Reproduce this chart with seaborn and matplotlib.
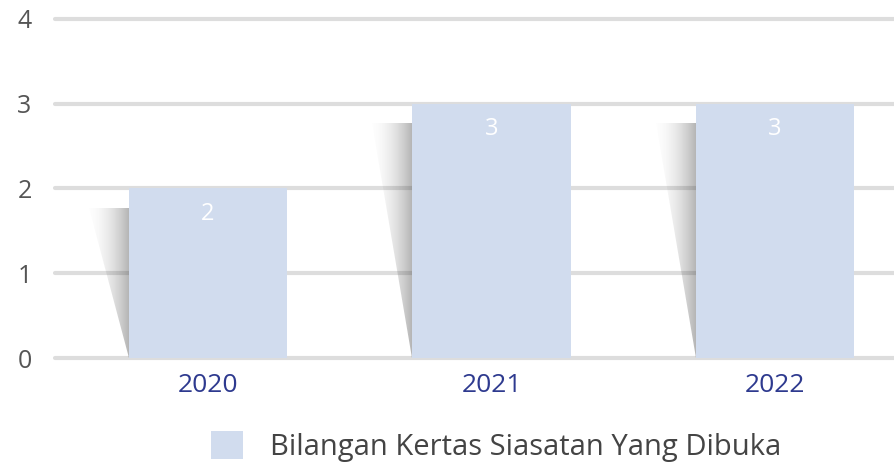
import numpy as np
import pandas as pd
import matplotlib
matplotlib.use("Agg")
import matplotlib.pyplot as plt
import seaborn as sns
from matplotlib.patches import Polygon, Patch

years = ["2020", "2021", "2022"]
values = [2, 3, 3]
yticks = [0, 1, 2, 3, 4]
series_name = "Bilangan Kertas Siasatan Yang Dibuka"

bar_color = "#d1dcee"
grid_color = "#dddddd"
xlab_color = "#2e3a8f"
ylab_color = "#555555"
font = ["Open Sans", "DejaVu Sans"]

sns.set_theme(style="white")
plt.rcParams["font.family"] = font

W, H = 894, 465
fig = plt.figure(figsize=(W / 100, H / 100), dpi=100)
ax = fig.add_axes([55 / W, 107 / H, (W - 55) / W, (358 - 19) / H])

df = pd.DataFrame({"year": years, "value": values})
bw = 0.56
sns.barplot(data=df, x="year", y="value", color=bar_color, width=bw,
            saturation=1, ax=ax, zorder=3, linewidth=0, edgecolor="none")

# gridlines
for t in yticks:
    ax.axhline(t, color=grid_color, lw=3, zorder=0, clip_on=False)

# shadows
sw = 0.141
grad = np.zeros((2, 256, 4))
xs = np.linspace(0, 1, 256)
grad[..., 0:3] = 0.25
grad[..., 3] = 0.01 + 0.38 * xs ** 1.8
for i, v in enumerate(values):
    left = i - bw / 2
    top = v - 0.23
    poly = Polygon([(left - sw, top), (left, top), (left, 0)], closed=True,
                   transform=ax.transData, facecolor="none", edgecolor="none")
    ax.add_patch(poly)
    im = ax.imshow(grad, extent=(left - sw, left, 0, top), aspect="auto",
                   zorder=2, interpolation="bilinear")
    im.set_clip_path(poly)

ax.set_aspect("auto")
ax.set_xlim(-0.54, 2.42)
ax.set_ylim(0, 4)

# value labels
for i, v in enumerate(values):
    ax.text(i, v - 0.3, str(v), color="white", ha="center", va="center",
            fontsize=17, zorder=5, family=font)

ax.set_yticks(yticks)
ax.set_yticklabels([str(t) for t in yticks])
ax.tick_params(axis="y", length=0, pad=22, labelsize=18, labelcolor=ylab_color)
ax.tick_params(axis="x", length=0, pad=11, labelsize=19, labelcolor=xlab_color)
for lab in ax.get_yticklabels():
    lab.set_ha("center")
ax.set_xlabel("")
ax.set_ylabel("")
for s in ax.spines.values():
    s.set_visible(False)
ax.grid(False)

handle = Patch(facecolor=bar_color, edgecolor="none")
fig.legend([handle], [series_name], loc="center", bbox_to_anchor=(0.555, 0.04),
           frameon=False, fontsize=21, handlelength=1.1, handleheight=1.1,
           handletextpad=0.95, labelcolor="#444444")

fig.savefig("out.png", dpi=100)
